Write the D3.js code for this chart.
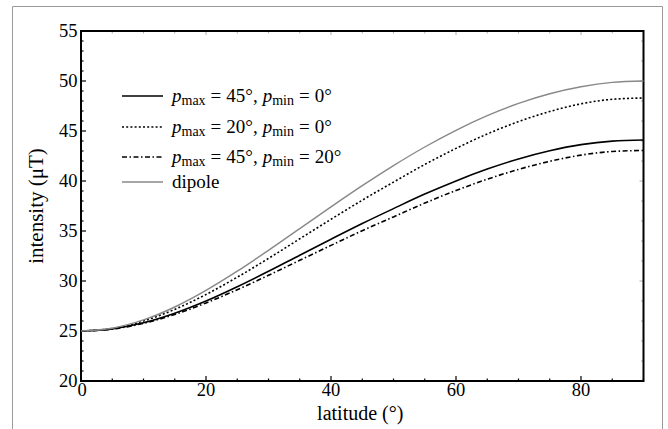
<!DOCTYPE html>
<html><head><meta charset="utf-8">
<script src="https://cdn.jsdelivr.net/npm/d3@7"></script>
<style>body{margin:0;background:#fff}svg{display:block}text{font-family:"Liberation Serif","Times New Roman",serif;fill:#000}</style>
</head><body><svg id="c" width="668" height="429"></svg>
<script>
const latitudes = [0,5,10,15,20,25,30,35,40,45,50,55,60,65,70,75,80,85,90];
const solid45_0 = [25,25.21,25.82,26.78,28.00,29.43,30.97,32.58,34.18,35.75,37.24,38.69,40.01,41.19,42.21,43.03,43.64,43.99,44.10];
const dotted20_0 = [25,25.25,26.00,27.16,28.65,30.38,32.26,34.22,36.17,38.08,39.89,41.65,43.26,44.70,45.94,46.95,47.72,48.17,48.30];
const dashdot45_20 = [25,25.19,25.77,26.66,27.80,29.13,30.57,32.07,33.56,35.03,36.41,37.79,39.05,40.18,41.16,41.97,42.59,42.95,43.05];
const dipole = [25,25.28,26.11,27.40,29.06,30.98,33.07,35.24,37.41,39.53,41.54,43.40,45.07,46.53,47.76,48.73,49.43,49.86,50.00];
const xTicks = [0,20,40,60,80];
const yTicks = [20,25,30,35,40,45,50,55];
const seriesNames = [["45","0"],["20","0"],["45","20"]];

const svg = d3.select("#c");
const L=81,R=643.5,T=31,B=381;
const x = d3.scaleLinear().domain([0,90]).range([L,R]);
const y = d3.scaleLinear().domain([20,55]).range([B,T]);

// outer frame
svg.append("path").attr("d","M12.5,440V6.5H662.5V440").attr("fill","none").attr("stroke","#9a9a9a").attr("stroke-width",1);

// ticks
const g = svg.append("g");
d3.range(0,91,5).forEach(v=>{
  const major = v%20===0;
  g.append("line").attr("x1",x(v)).attr("x2",x(v)).attr("y1",B).attr("y2",B-(major?5:2.5)).attr("stroke","#000").attr("stroke-width",1.2);
  g.append("line").attr("x1",x(v)).attr("x2",x(v)).attr("y1",T).attr("y2",T+(major?4:2.5)).attr("stroke","#999").attr("stroke-width",0.8);
});
d3.range(20,56,1).forEach(v=>{
  const major = v%5===0;
  g.append("line").attr("x1",L).attr("x2",L+(major?5:2.5)).attr("y1",y(v)).attr("y2",y(v)).attr("stroke","#000").attr("stroke-width",1.2);
});
d3.range(20,56,2).forEach(v=>{
  g.append("line").attr("x1",R).attr("x2",R-(v%10===0?4:2.5)).attr("y1",y(v)).attr("y2",y(v)).attr("stroke","#999").attr("stroke-width",0.8);
});

// frame box
svg.append("rect").attr("x",L).attr("y",T).attr("width",R-L).attr("height",B-T).attr("fill","none").attr("stroke","#000").attr("stroke-width",2);

// tick labels
xTicks.forEach(v=>svg.append("text").attr("x",x(v)+(v===0?1:0)).attr("y",B+15).attr("text-anchor","middle").attr("font-size",18.5).text(v));
yTicks.forEach(v=>svg.append("text").attr("x",L-3.5).attr("y",y(v)+6).attr("text-anchor","end").attr("font-size",18.5).text(v));

// axis labels
svg.append("text").attr("x",(L+R)/2-2).attr("y",420).attr("text-anchor","middle").attr("font-size",20).text("latitude (°)");
svg.append("text").attr("transform",`translate(43,${(T+B)/2}) rotate(-90)`).attr("text-anchor","middle").attr("font-size",21).text("intensity (μT)");

// curves
const line = d3.line().x((d,i)=>x(latitudes[i])).y(d=>y(d)).curve(d3.curveMonotoneX);
const styles = [
  {data:solid45_0, stroke:"#000", w:1.6, dash:null},
  {data:dotted20_0, stroke:"#000", w:1.6, dash:"2,2.2"},
  {data:dashdot45_20, stroke:"#000", w:1.6, dash:"5,2.5,1.5,2.5"},
  {data:dipole, stroke:"#888", w:1.4, dash:null}
];
const cg = svg.append("g");
styles.forEach(s=>cg.append("path").attr("d",line(s.data)).attr("fill","none").attr("stroke",s.stroke).attr("stroke-width",s.w).attr("stroke-dasharray",s.dash));

// legend
const legY=[96,127,157,182];
styles.forEach((s,i)=>{
  svg.append("line").attr("x1",122).attr("x2",163).attr("y1",legY[i]).attr("y2",legY[i]).attr("stroke",s.stroke).attr("stroke-width",s.w).attr("stroke-dasharray",s.dash);
  const t = svg.append("text").attr("x",172).attr("y",legY[i]+6).attr("font-size",19);
  if(i<3){
    const n=seriesNames[i];
    t.append("tspan").attr("font-style","italic").text("p");
    t.append("tspan").attr("font-size",14).attr("dy",3).text("max");
    t.append("tspan").attr("dy",-3).attr("dx",5).text("=");
    t.append("tspan").attr("dx",5).text(`${n[0]}°,`);
    t.append("tspan").attr("dx",5).attr("font-style","italic").text("p");
    t.append("tspan").attr("font-size",14).attr("dy",3).text("min");
    t.append("tspan").attr("dy",-3).attr("dx",5).text("=");
    t.append("tspan").attr("dx",5).text(`${n[1]}°`);
  } else t.text("dipole");
});
</script></body></html>
